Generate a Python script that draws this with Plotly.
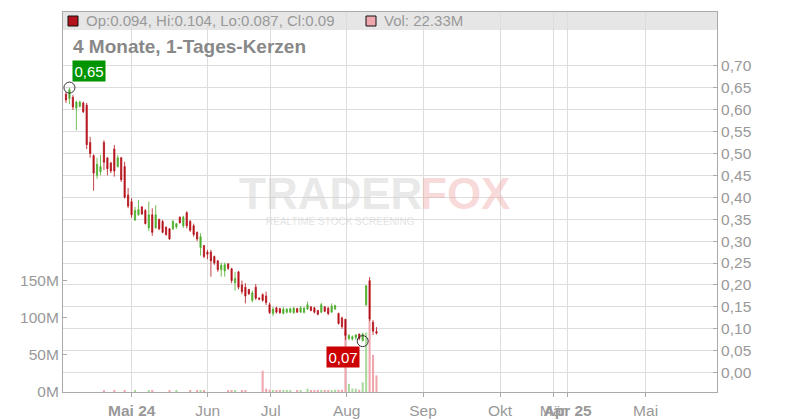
import plotly.graph_objects as go

# ---------------- data ----------------
days = list(range(91))  # trading-day index of each candle
opens = [0.635, 0.625, 0.628, 0.603, 0.607, 0.615, 0.610, 0.525, 0.495, 0.450,
         0.458, 0.525, 0.490, 0.478, 0.510, 0.470, 0.490, 0.470, 0.405, 0.390,
         0.348, 0.360, 0.378, 0.370, 0.330, 0.360, 0.330, 0.350, 0.345, 0.332,
         0.328, 0.328, 0.332, 0.355, 0.335, 0.365, 0.345, 0.335, 0.320, 0.285,
         0.290, 0.275, 0.275, 0.265, 0.255, 0.235, 0.232, 0.248, 0.237, 0.205,
         0.230, 0.200, 0.195, 0.190, 0.165, 0.195, 0.170, 0.178, 0.175, 0.155,
         0.135, 0.148, 0.146, 0.135, 0.138, 0.138, 0.137, 0.146, 0.138, 0.138,
         0.145, 0.150, 0.148, 0.142, 0.138, 0.150, 0.147, 0.138, 0.145, 0.135,
         0.125, 0.122, 0.078, 0.077, 0.080, 0.088, 0.073, 0.155, 0.210, 0.115,
         0.094]
highs = [0.640, 0.650, 0.633, 0.620, 0.620, 0.618, 0.615, 0.538, 0.498, 0.490,
         0.496, 0.530, 0.490, 0.481, 0.519, 0.496, 0.492, 0.481, 0.421, 0.398,
         0.378, 0.394, 0.380, 0.373, 0.390, 0.375, 0.382, 0.350, 0.348, 0.333,
         0.330, 0.348, 0.340, 0.356, 0.358, 0.368, 0.348, 0.340, 0.322, 0.318,
         0.290, 0.280, 0.280, 0.267, 0.257, 0.251, 0.251, 0.250, 0.239, 0.230,
         0.232, 0.210, 0.204, 0.190, 0.187, 0.202, 0.172, 0.181, 0.185, 0.160,
         0.150, 0.150, 0.148, 0.150, 0.147, 0.148, 0.150, 0.148, 0.152, 0.150,
         0.162, 0.152, 0.150, 0.143, 0.159, 0.152, 0.150, 0.158, 0.155, 0.137,
         0.128, 0.122, 0.088, 0.085, 0.088, 0.089, 0.091, 0.200, 0.218, 0.120,
         0.104]
lows = [0.615, 0.612, 0.599, 0.553, 0.605, 0.592, 0.510, 0.490, 0.415, 0.442,
        0.450, 0.462, 0.450, 0.455, 0.447, 0.468, 0.435, 0.397, 0.375, 0.353,
        0.346, 0.358, 0.360, 0.338, 0.323, 0.312, 0.329, 0.325, 0.318, 0.312,
        0.303, 0.325, 0.328, 0.340, 0.330, 0.329, 0.321, 0.310, 0.300, 0.267,
        0.261, 0.259, 0.219, 0.246, 0.230, 0.219, 0.219, 0.234, 0.204, 0.187,
        0.190, 0.179, 0.158, 0.177, 0.160, 0.166, 0.165, 0.162, 0.154, 0.134,
        0.129, 0.135, 0.134, 0.133, 0.135, 0.136, 0.134, 0.137, 0.137, 0.135,
        0.143, 0.140, 0.135, 0.131, 0.136, 0.138, 0.131, 0.137, 0.143, 0.110,
        0.100, 0.075, 0.074, 0.073, 0.075, 0.074, 0.072, 0.152, 0.118, 0.086,
        0.087]
closes = [0.622, 0.645, 0.606, 0.617, 0.617, 0.595, 0.520, 0.500, 0.455, 0.475,
          0.470, 0.480, 0.465, 0.460, 0.460, 0.490, 0.440, 0.400, 0.380, 0.360,
          0.370, 0.372, 0.362, 0.340, 0.360, 0.320, 0.360, 0.328, 0.320, 0.315,
          0.305, 0.345, 0.340, 0.342, 0.355, 0.335, 0.325, 0.315, 0.305, 0.310,
          0.265, 0.270, 0.255, 0.250, 0.235, 0.245, 0.246, 0.238, 0.210, 0.215,
          0.195, 0.185, 0.175, 0.180, 0.182, 0.170, 0.168, 0.165, 0.160, 0.137,
          0.145, 0.138, 0.137, 0.145, 0.145, 0.146, 0.147, 0.138, 0.148, 0.147,
          0.155, 0.142, 0.138, 0.133, 0.155, 0.140, 0.135, 0.152, 0.153, 0.112,
          0.105, 0.085, 0.085, 0.082, 0.086, 0.078, 0.088, 0.198, 0.122, 0.095,
          0.090]
volume_m = [0, 0, 0, 0, 0, 0, 0, 0, 0, 0,
            0, 1.8, 0, 0, 1.8, 0, 0, 1.5, 0, 0,
            1.8, 0, 0, 0, 1.8, 1.5, 0, 0, 0, 0,
            1.8, 0, 1.5, 0, 0, 0, 1.5, 0, 1.8, 1.8,
            1.8, 0, 0, 0, 0, 0, 0, 1.5, 1.8, 1.5,
            0, 1.8, 1.5, 0, 0, 0, 0, 28.6, 4.5, 3.0,
            1.5, 1.5, 1.5, 1.5, 1.5, 1.5, 0, 1.5, 1.5, 0,
            4.5, 1.8, 1.8, 1.5, 1.8, 1.8, 1.8, 1.8, 3.0, 3.0,
            3.0, 81.0, 11.0, 4.5, 4.5, 3.0, 13.0, 80.0, 97.0, 50.0,
            22.33]

tick_labels = ["<b>Mai 24</b>", "Jun", "Jul", "Aug", "Sep", "Okt", "Mär", "<b>Apr 25</b>", "Mai"]
tick_pos = [19.04, 41.07, 59.33, 81.36, 103.48, 125.8, 141.2, 145.4, 168.0]
price_ticks = [0.00, 0.05, 0.10, 0.15, 0.20, 0.25, 0.30, 0.35, 0.40, 0.45, 0.50, 0.55, 0.60, 0.65, 0.70]
vol_ticks = [0, 50, 100, 150]
vol_tick_labels = ["0M", "50M", "100M", "150M"]

title_text = "4 Monate, 1-Tages-Kerzen"
ohlc_text = "Op:0.094, Hi:0.104, Lo:0.087, Cl:0.09"
vol_text = "Vol: 22.33M"

# ---------------- styling ----------------
UP = "#4dad2b"
DOWN = "#b5121b"
VOL_UP = "#a9d99c"
VOL_DOWN = "#efa6ad"
GRID = "#dddddd"
AXIS = "#aaaaaa"
TXT = "#999999"
FONT = "Liberation Sans, Arial, sans-serif"

PL, PR, PT, PB = 63, 717, 12, 392


def fx(px):
    return (px - PL) / (PR - PL)


def fy(py):
    return (PB - py) / (PB - PT)


vol_colors = [VOL_UP if c >= o else VOL_DOWN for o, c in zip(opens, closes)]

hi_i = max(days, key=lambda i: highs[i])
lo_i = min(days, key=lambda i: lows[i])

fig = go.Figure()

fig.add_trace(go.Bar(
    x=days, y=volume_m, width=0.6, marker=dict(color=vol_colors, line=dict(width=0)),
    yaxis="y", xaxis="x", showlegend=False, hoverinfo="skip"))

fig.add_trace(go.Candlestick(
    x=days, open=opens, high=highs, low=lows, close=closes,
    increasing=dict(line=dict(color=UP, width=0.8), fillcolor=UP),
    decreasing=dict(line=dict(color=DOWN, width=0.8), fillcolor=DOWN),
    whiskerwidth=0, yaxis="y2", xaxis="x", showlegend=False))

fig.add_trace(go.Scatter(
    x=[hi_i, lo_i], y=[highs[hi_i], lows[lo_i]], mode="markers",
    marker=dict(symbol="circle-open", size=11, color="#333333", line=dict(width=1)),
    yaxis="y2", xaxis="x", showlegend=False, hoverinfo="skip"))

annotations = [
    dict(x=hi_i, y=highs[hi_i], xref="x", yref="y2", text=f"{highs[hi_i]:.2f}".replace(".", ","),
         showarrow=False, xanchor="left", yanchor="bottom", xshift=3, yshift=6,
         bgcolor="#009400", borderpad=1.5, font=dict(family=FONT, size=15, color="white")),
    dict(x=lo_i, y=lows[lo_i], xref="x", yref="y2", text=f"{lows[lo_i]:.2f}".replace(".", ","),
         showarrow=False, xanchor="right", yanchor="top", xshift=-3, yshift=-5,
         bgcolor="#cc0000", borderpad=1.5, font=dict(family=FONT, size=15, color="white")),
    dict(x=fx(84), y=fy(21), xref="paper", yref="paper", text=ohlc_text, showarrow=False,
         xanchor="left", yanchor="middle", font=dict(family=FONT, size=15, color=TXT)),
    dict(x=fx(382), y=fy(21), xref="paper", yref="paper", text=vol_text, showarrow=False,
         xanchor="left", yanchor="middle", font=dict(family=FONT, size=15, color=TXT)),
    dict(x=fx(71), y=fy(47), xref="paper", yref="paper", text=f"<b>{title_text}</b>", showarrow=False,
         xanchor="left", yanchor="middle", font=dict(family=FONT, size=19, color="#888888")),
    dict(x=fx(237), y=fy(193), xref="paper", yref="paper", text="<b>TRADER</b>", showarrow=False,
         xanchor="left", yanchor="middle", font=dict(family=FONT, size=44, color="rgba(205,205,205,0.45)")),
    dict(x=fx(418), y=fy(193), xref="paper", yref="paper", text="<b>FOX</b>", showarrow=False,
         xanchor="left", yanchor="middle", font=dict(family=FONT, size=44, color="rgba(235,150,150,0.35)")),
    dict(x=fx(340), y=fy(221), xref="paper", yref="paper", text="REALTIME STOCK SCREENING", showarrow=False,
         xanchor="center", yanchor="middle", font=dict(family=FONT, size=10, color="rgba(200,200,200,0.5)")),
]

shapes = [
    dict(type="rect", xref="paper", yref="paper", x0=0, x1=1, y0=fy(30), y1=1,
         fillcolor="#e6e6e6", line=dict(width=0), layer="below"),
    dict(type="rect", xref="paper", yref="paper", x0=fx(68), x1=fx(78), y0=fy(26), y1=fy(16),
         fillcolor=DOWN, line=dict(color="#111111", width=1)),
    dict(type="rect", xref="paper", yref="paper", x0=fx(366), x1=fx(376), y0=fy(26), y1=fy(16),
         fillcolor=VOL_DOWN, line=dict(color="#111111", width=1)),
]

fig.update_layout(
    width=800, height=420,
    margin=dict(l=PL, r=800 - PR, t=PT, b=420 - PB, pad=0, autoexpand=False),
    paper_bgcolor="white", plot_bgcolor="white",
    separators=",.",
    showlegend=False,
    font=dict(family=FONT, size=15, color=TXT),
    xaxis=dict(range=[-0.87, 188.7], tickmode="array", tickvals=tick_pos, ticktext=tick_labels,
               ticks="outside", ticklen=4, tickcolor=AXIS, showgrid=True, gridcolor=GRID, gridwidth=1,
               showline=True, linecolor=AXIS, mirror=True, zeroline=False, tickangle=0,
               automargin=False,
               tickfont=dict(family=FONT, size=15.5, color=TXT), rangeslider=dict(visible=False)),
    yaxis=dict(range=[0, 510.8], tickmode="array", tickvals=vol_ticks, ticktext=vol_tick_labels,
               ticks="inside", ticklen=4, tickcolor=AXIS, showgrid=False, showline=True,
               linecolor=AXIS, zeroline=False, side="left", automargin=False,
               tickfont=dict(family=FONT, size=15.5, color=TXT)),
    yaxis2=dict(range=[-0.044, 0.8224], tickmode="array", tickvals=price_ticks, tickformat=".2f",
                ticks="inside", ticklen=4, tickcolor=AXIS, showgrid=True, gridcolor=GRID, gridwidth=1,
                showline=True, linecolor=AXIS, zeroline=False, side="right", overlaying="y",
                anchor="x", automargin=False, tickfont=dict(family=FONT, size=15.5, color=TXT)),
    annotations=annotations,
    shapes=shapes,
    bargap=0.4,
    boxgap=0.5,
)

fig.write_html(
    "out.html",
    config={"displayModeBar": False},
    post_script="document.body.style.margin='0';document.body.style.overflow='hidden';",
)
